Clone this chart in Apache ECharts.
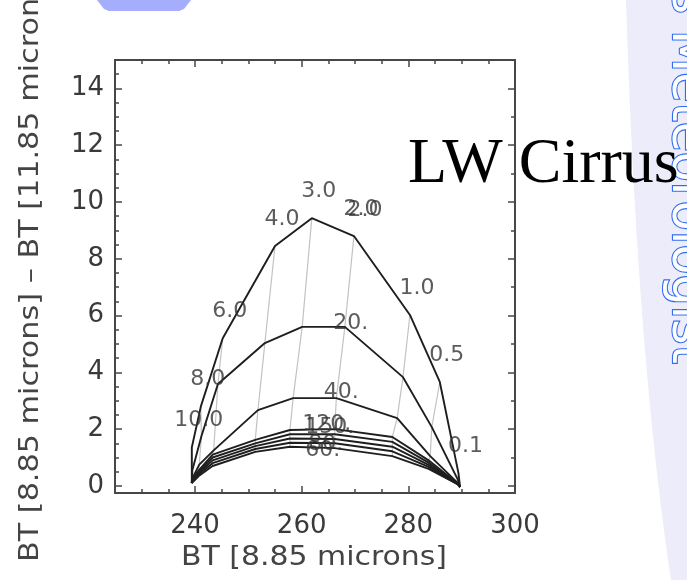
<!DOCTYPE html>
<html>
<head>
<meta charset="utf-8">
<script src="https://cdn.jsdelivr.net/npm/echarts@6/dist/echarts.min.js"></script>
<style>
html,body{margin:0;padding:0;background:#fff;}
#chart{width:687px;height:580px;}
</style>
</head>
<body>
<div id="chart"></div>
<script>
// ---- data ----
// optical-depth labels along the top curve (vertex index 1..9)
const tauLabels = ['10.0','8.0','6.0','4.0','3.0','2.0','1.0','0.5','0.1'];
// effective-size labels
const sizeLabels = ['20.','40.','120.','150.','80.','60.'];

// each curve: [opaque start, tau=10, 8, 6, 4, 3, 2, 1, 0.5, 0.1, clear]
const topX = [239.4, 239.4, 241.1, 245.2, 255.0, 261.9, 269.8, 280.3, 285.9, 289.4, 289.7];
const topY = [0.10, 1.35, 2.80, 5.20, 8.45, 9.43, 8.80, 6.02, 3.66, 0.45, -0.04];

const r20X = [239.4, 239.5, 241.2, 244.3, 253.1, 260.1, 268.1, 279.0, 284.4, 289.3, 289.7];
const r20Y = [0.10, 0.55, 1.75, 3.59, 5.03, 5.60, 5.60, 3.83, 2.07, 0.21, -0.04];

const r40X = [239.4, 239.6, 240.8, 243.5, 251.8, 258.4, 266.5, 277.9, 284.1, 289.3, 289.7];
const r40Y = [0.10, 0.30, 0.75, 1.25, 2.67, 3.09, 3.09, 2.39, 1.05, 0.10, -0.04];

const clusterX = [239.4, 239.5, 240.7, 243.3, 251.3, 257.8, 266.2, 277.0, 283.8, 289.3, 289.7];
const c1Y = [0.10, 0.25, 0.55, 1.10, 1.62, 1.97, 2.00, 1.72, 0.90, 0.08, -0.04];
const c2Y = [0.10, 0.22, 0.50, 1.00, 1.50, 1.82, 1.82, 1.55, 0.82, 0.07, -0.04];
const c3Y = [0.10, 0.20, 0.45, 0.90, 1.40, 1.67, 1.65, 1.38, 0.74, 0.06, -0.04];
const c4Y = [0.10, 0.18, 0.40, 0.80, 1.30, 1.52, 1.50, 1.22, 0.67, 0.05, -0.04];
const c5Y = [0.10, 0.16, 0.35, 0.70, 1.20, 1.38, 1.33, 1.05, 0.60, 0.05, -0.04];

// axis ticks
const xMajor = [240, 260, 280, 300];
const xMinor = [230, 235, 245, 250, 255, 265, 270, 275, 285, 290, 295];
const yMajor = [0, 2, 4, 6, 8, 10, 12, 14];
const yMinorLeft = [0.5,1,1.5,2.5,3,3.5,4.5,5,5.5,6.5,7,7.5,8.5,9,9.5,10.5,11,11.5,12.5,13,13.5,14.5];
const yMinorRight = [1,3,5,7,9,11,13];

// ---- build ----
const curves = [
  {x: topX, y: topY},
  {x: r20X, y: r20Y},
  {x: r40X, y: r40Y},
  {x: clusterX, y: c1Y},
  {x: clusterX, y: c2Y},
  {x: clusterX, y: c3Y},
  {x: clusterX, y: c4Y},
  {x: clusterX, y: c5Y}
];
const pts = c => c.x.map((v, i) => [v, c.y[i]]);

const FONT = 'DejaVu Sans';
const AXC = '#474747';
const series = [];

// grey lines joining equal optical depth
for (let i = 1; i <= 9; i++) {
  series.push({
    type: 'line', silent: true, animation: false, showSymbol: false, z: 1,
    data: curves.map(c => [c.x[i], c.y[i]]),
    lineStyle: {color: '#c2c2c2', width: 1.2}
  });
}
// black curves
curves.forEach(c => {
  series.push({
    type: 'line', silent: true, animation: false, showSymbol: false, z: 3,
    data: pts(c),
    lineStyle: {color: '#1e1e1e', width: 1.9}
  });
});
// tau labels along top curve
series.push({
  type: 'scatter', silent: true, animation: false, symbolSize: 0, z: 5,
  data: tauLabels.map((t, k) => ({value: [topX[k + 1], topY[k + 1]], name: t})),
  label: {show: true, position: 'inside', offset: [7, -27], formatter: p => p.name,
          fontFamily: FONT, fontSize: 22, color: '#333'}
});
// doubled "2.0"
series.push({
  type: 'scatter', silent: true, animation: false, symbolSize: 0, z: 5,
  data: [{value: [topX[6], topY[6]], name: tauLabels[5]}],
  label: {show: true, position: 'inside', offset: [11, -26], formatter: p => p.name,
          fontFamily: FONT, fontSize: 22, color: '#333'}
});
// size labels at tau=2 vertex
const sizeLabelDefs = [
  {c: 1, off: [6, -4]},
  {c: 2, off: [5, -6]},
  {c: 3, off: [-8, -5]},
  {c: 4, off: [-5, -7]},
  {c: 5, off: [-9, 5]},
  {c: 6, off: [-12, 7]}
];
sizeLabelDefs.forEach((d, k) => {
  const c = curves[d.c];
  series.push({
    type: 'scatter', silent: true, animation: false, symbolSize: 0, z: 5,
    data: [{value: [c.x[6], c.y[6]], name: sizeLabels[k]}],
    label: {show: true, position: 'inside', offset: d.off, formatter: p => p.name,
            fontFamily: FONT, fontSize: 22, color: '#333'}
  });
});

const xBase = {type: 'value', min: 225, max: 300, splitLine: {show: false}};
const yBase = {type: 'value', min: -0.25, max: 15, splitLine: {show: false}};
const lineSt = {color: AXC, width: 2};
const tickSt = {color: AXC, width: 1.5};

// decorative lavender band (curved left edge)
const bandPts = [];
for (let t = 0; t <= 1.0001; t += 0.05) {
  const bx = (1 - t) * (1 - t) * 626 + 2 * (1 - t) * t * 637 + t * t * 671;
  const by = 2 * (1 - t) * t * 354 + t * t * 580;
  bandPts.push([bx, by]);
}
bandPts.push([687, 580], [687, 0]);

function xAx(pos, major) {
  return Object.assign({}, xBase, {position: pos,
    axisLine: {show: major, onZero: false, lineStyle: lineSt},
    axisTick: {show: true, inside: true, length: major ? 7 : 4, customValues: major ? xMajor : xMinor, lineStyle: tickSt},
    axisLabel: (major && pos === 'bottom')
      ? {show: true, customValues: xMajor, margin: 20, fontFamily: FONT, fontSize: 26, color: '#3a3a3a'}
      : {show: false}});
}
function yAx(pos, major) {
  return Object.assign({}, yBase, {position: pos,
    axisLine: {show: major, onZero: false, lineStyle: lineSt},
    axisTick: {show: true, inside: true, length: major ? 7 : 4,
               customValues: major ? yMajor : (pos === 'left' ? yMinorLeft : yMinorRight), lineStyle: tickSt},
    axisLabel: (major && pos === 'left')
      ? {show: true, customValues: yMajor, margin: 11, fontFamily: FONT, fontSize: 26, color: '#3a3a3a'}
      : {show: false}});
}

const option = {
  backgroundColor: '#fff',
  animation: false,
  grid: {left: 115, right: 172, top: 60, bottom: 87, outerBoundsMode: 'none'},
  xAxis: [xAx('bottom', true), xAx('bottom', false), xAx('top', true), xAx('top', false)],
  yAxis: [yAx('left', true), yAx('left', false), yAx('right', true), yAx('right', false)],
  series: series,
  graphic: [
    {type: 'polygon', z: -10, shape: {points: bandPts}, style: {fill: '#ececfb'}},
    {type: 'polygon', z: -10, shape: {points: [[97,0],[191,0],[184,9],[179,11],[109,11],[104,9]]},
     style: {fill: '#a4aefc'}},
    {type: 'text', x: 661, y: 30, rotation: -Math.PI / 2, z: 10,
     style: {text: 'Meteorologist', font: '49px "DejaVu Sans"', fill: '#ffffff', stroke: '#2f6cf0', lineWidth: 2.2,
             textAlign: 'left', textVerticalAlign: 'bottom'}},
    {type: 'text', x: 661, y: 14, rotation: -Math.PI / 2, z: 10,
     style: {text: 's', font: '49px "DejaVu Sans"', fill: '#ffffff', stroke: '#2f6cf0', lineWidth: 2.2,
             textAlign: 'right', textVerticalAlign: 'bottom'}},
    {type: 'text', x: 408, y: 197, z: 20,
     style: {text: 'LW Cirrus', font: '64px "Liberation Serif"', fill: '#000',
             textAlign: 'left', textVerticalAlign: 'bottom'}},
    {type: 'text', x: 314, y: 558, scaleX: 1.15, z: 20,
     style: {text: 'BT [8.85 microns]', font: '26px "DejaVu Sans"', fill: '#444',
             textAlign: 'center', textVerticalAlign: 'middle'}},
    {type: 'text', x: 31, y: 562, rotation: Math.PI / 2, scaleX: 1.12, z: 20,
     style: {text: 'BT [8.85 microns] \u2013 BT [11.85 microns]', font: '27px "DejaVu Sans"', fill: '#444',
             textAlign: 'left', textVerticalAlign: 'middle'}}
  ]
};

const chart = echarts.init(document.getElementById('chart'), null, {renderer: 'canvas'});
chart.setOption(option);
</script>
</body>
</html>
